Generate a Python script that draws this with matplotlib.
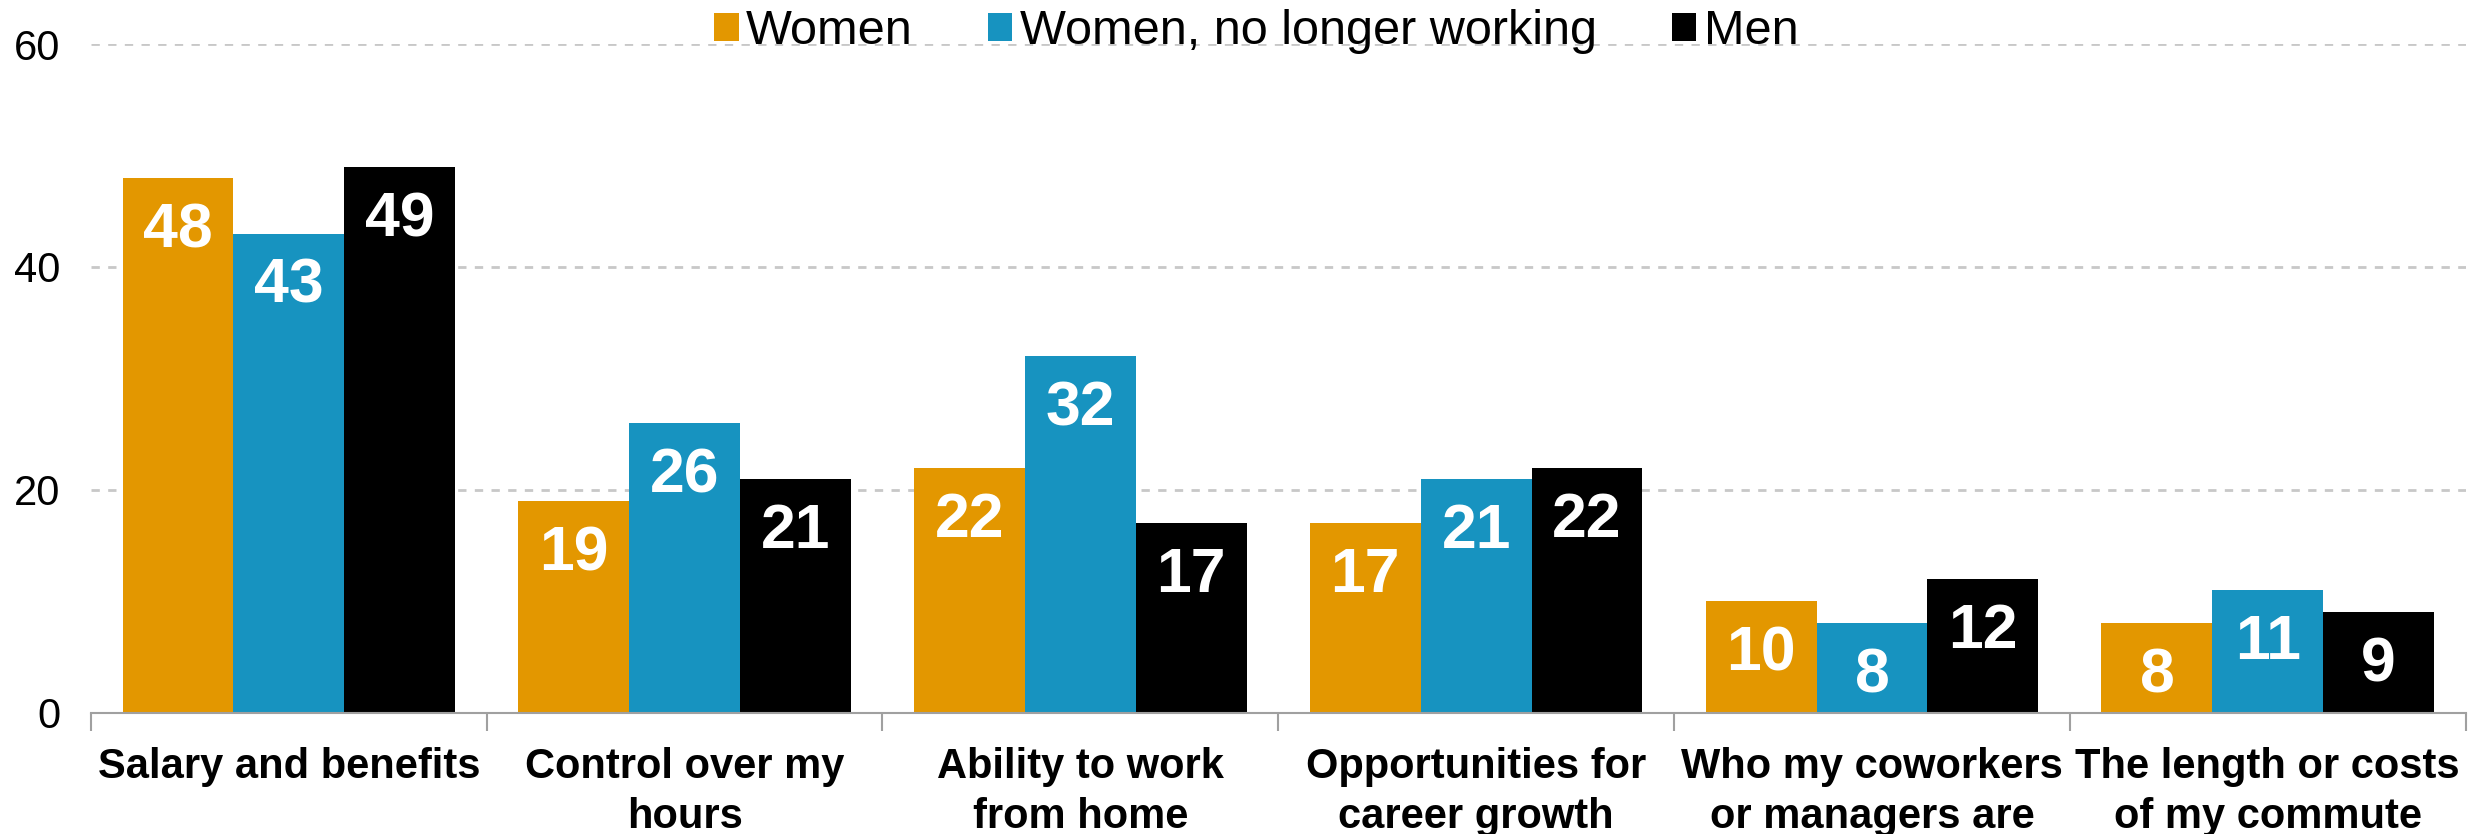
import numpy as np
import matplotlib.pyplot as plt

plt.rcParams['font.family'] = ['Liberation Sans', 'DejaVu Sans']

# Survey data
categories = ["Salary and benefits", "Control over my\nhours", "Ability to work\nfrom home",
              "Opportunities for\ncareer growth", "Who my coworkers\nor managers are",
              "The length or costs\nof my commute"]
women = [48, 19, 22, 17, 10, 8]
women_not_working = [43, 26, 32, 21, 8, 11]
men = [49, 21, 17, 22, 12, 9]

series = [("Women", women, "#E39700"),
          ("Women, no longer working", women_not_working, "#1793C0"),
          ("Men", men, "#000000")]

fig = plt.figure(figsize=(24.83, 8.34), dpi=100)
ax = fig.add_axes([0.0366, 0.1456, 0.9564, 0.8014])

x = np.arange(len(categories))
width = 0.28
for i, (name, vals, color) in enumerate(series):
    bars = ax.bar(x + (i - 1) * width, vals, width, color=color, label=name, zorder=3)
    for b, v in zip(bars, vals):
        ax.annotate(str(v), (b.get_x() + b.get_width() / 2, v), xytext=(0, -38),
                    textcoords='offset points', ha='center', va='center',
                    color='white', fontsize=45, fontweight='bold', zorder=4)

ax.set_xlim(-0.5, len(categories) - 0.5)
ax.set_ylim(0, 60)
ax.set_yticks([0, 20, 40, 60])
ax.tick_params(axis='y', length=0, labelsize=30, pad=22)

# category labels centred, divider ticks between groups
ax.set_xticks(x)
ax.set_xticklabels(categories, fontsize=30, fontweight='bold', linespacing=1.3)
ax.tick_params(axis='x', which='major', length=0, pad=25)
ax.set_xticks(np.arange(-0.5, len(categories)), minor=True)
ax.tick_params(axis='x', which='minor', length=13, width=1.5, color='#A0A0A0')

for y in [20, 40, 60]:
    ax.axhline(y, color='#C8C8C8', linestyle=(0, (3, 3)), linewidth=2, zorder=1)

for s in ['top', 'right', 'left']:
    ax.spines[s].set_visible(False)
ax.spines['bottom'].set_color('#A0A0A0')
ax.spines['bottom'].set_linewidth(1.5)
ax.spines['bottom'].set_zorder(5)

fig.legend(loc='center', bbox_to_anchor=(0.506, 0.962), ncol=3, frameon=False,
           fontsize=35, handlelength=0.5, handleheight=0.5, handletextpad=0.15,
           columnspacing=1.55, borderpad=0)

fig.savefig("out.png", dpi=100)
